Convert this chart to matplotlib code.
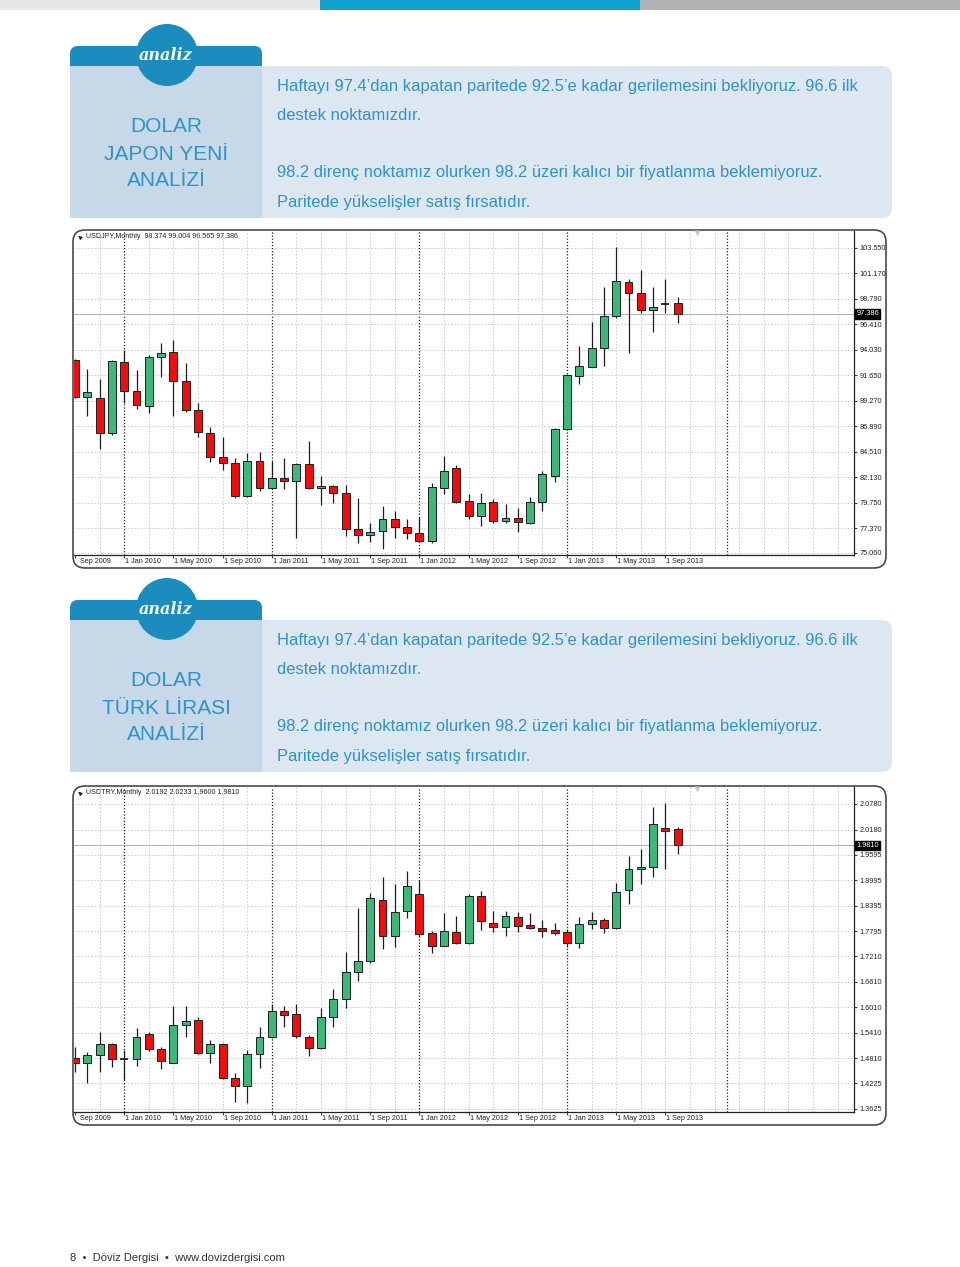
import numpy as np
import matplotlib.pyplot as plt
from matplotlib.patches import Rectangle, FancyBboxPatch, Circle
from matplotlib.transforms import blended_transform_factory, offset_copy

# ---- data ----------------------------------------------------------------
# monthly candles Sep 2009 .. Oct 2013 (50 bars)
jpy_open = [93.09, 89.66, 89.51, 86.24, 92.87, 90.19, 88.80, 93.40, 93.80, 91.13,
            88.42, 86.24, 84.06, 83.50, 80.42, 83.66, 81.17, 82.10, 81.82, 83.35,
            81.13, 81.35, 80.63, 77.30, 76.74, 77.08, 78.24, 77.53, 76.96, 76.21,
            81.17, 82.97, 79.92, 78.52, 79.83, 78.08, 78.30, 77.89, 79.80, 82.28,
            86.62, 91.62, 92.46, 94.18, 97.20, 100.37, 99.38, 97.76, 98.35, 98.374]
jpy_high = [93.20, 92.25, 91.29, 93.10, 94.02, 92.15, 93.56, 94.70, 94.96, 92.84,
            89.10, 86.86, 85.87, 83.91, 84.37, 84.52, 83.66, 83.96, 83.44, 85.55,
            82.25, 81.41, 81.41, 80.17, 77.84, 79.48, 78.99, 78.21, 78.45, 81.64,
            84.12, 83.28, 80.55, 80.64, 80.08, 79.64, 79.23, 80.32, 82.72, 86.70,
            91.75, 94.42, 96.67, 99.88, 103.67, 100.65, 101.50, 99.88, 100.63, 99.004]
jpy_low = [89.55, 87.89, 84.78, 86.10, 89.10, 88.48, 88.10, 91.53, 87.89, 88.26,
           85.93, 83.53, 82.82, 80.17, 80.27, 80.88, 81.01, 81.01, 76.44, 81.01,
           79.55, 79.70, 76.65, 75.97, 76.12, 75.44, 76.49, 76.34, 76.12, 75.97,
           80.55, 79.70, 78.21, 77.58, 77.89, 77.89, 77.05, 77.74, 78.99, 81.66,
           86.55, 90.85, 92.40, 92.53, 96.98, 93.71, 97.51, 95.73, 97.45, 96.565]
jpy_close = [89.66, 90.07, 86.24, 93.02, 90.22, 88.90, 93.40, 93.77, 91.10, 88.42,
             86.40, 84.06, 83.50, 80.42, 83.66, 81.17, 82.04, 81.82, 83.35, 81.17,
             81.35, 80.63, 77.30, 76.74, 77.05, 78.24, 77.53, 76.90, 76.21, 81.26,
             82.75, 79.85, 78.52, 79.76, 78.08, 78.30, 77.93, 79.80, 82.41, 86.62,
             91.69, 92.53, 94.18, 97.23, 100.47, 99.38, 97.76, 98.07, 98.35, 97.386]

try_open = [1.4829, 1.4696, 1.4892, 1.5142, 1.4790, 1.4790, 1.5376, 1.5024, 1.4712, 1.5595,
            1.5713, 1.4930, 1.5142, 1.4344, 1.4164, 1.4907, 1.5305, 1.5924, 1.5846, 1.5321,
            1.5063, 1.5790, 1.6197, 1.6846, 1.7104, 1.8528, 1.7683, 1.8270, 1.8669, 1.7746,
            1.7457, 1.7785, 1.7527, 1.8622, 1.7981, 1.7887, 1.8136, 1.7933, 1.7879, 1.7824,
            1.7785, 1.7512, 1.7958, 1.8059, 1.7879, 1.8762, 1.9247, 1.9294, 2.0217, 2.0192]
try_high = [1.5087, 1.4970, 1.5423, 1.5165, 1.5009, 1.5517, 1.5439, 1.5087, 1.6041, 1.6041,
            1.5775, 1.5243, 1.5165, 1.4462, 1.5009, 1.5556, 1.6088, 1.6041, 1.6088, 1.5360,
            1.5987, 1.6432, 1.7315, 1.8333, 1.8685, 1.9075, 1.8895, 1.9208, 1.8997, 1.7808,
            1.8231, 1.8152, 1.8661, 1.8747, 1.8278, 1.8278, 1.8255, 1.8216, 1.8059, 1.7981,
            1.7840, 1.8136, 1.8255, 1.8114, 1.8919, 1.9560, 1.9716, 2.0702, 2.0811, 2.0233]
try_low = [1.4500, 1.4242, 1.4500, 1.4602, 1.4305, 1.4633, 1.4985, 1.4555, 1.4696, 1.5321,
           1.4915, 1.4712, 1.4328, 1.3781, 1.3758, 1.4579, 1.5282, 1.5556, 1.5282, 1.4876,
           1.5024, 1.5556, 1.6002, 1.6628, 1.7043, 1.7378, 1.7433, 1.8098, 1.7650, 1.7292,
           1.7450, 1.7496, 1.7496, 1.7824, 1.7785, 1.7690, 1.7785, 1.7840, 1.7653, 1.7706,
           1.7433, 1.7395, 1.7840, 1.7746, 1.7848, 1.8434, 1.8903, 1.9075, 1.9255, 1.9600]
try_close = [1.4696, 1.4884, 1.5142, 1.4805, 1.4790, 1.5321, 1.5040, 1.4751, 1.5595, 1.5697,
             1.4930, 1.5142, 1.4360, 1.4164, 1.4907, 1.5321, 1.5924, 1.5830, 1.5337, 1.5063,
             1.5790, 1.6197, 1.6846, 1.7104, 1.8568, 1.7683, 1.8254, 1.8864, 1.7730, 1.7457,
             1.7808, 1.7527, 1.8622, 1.8043, 1.7887, 1.8152, 1.7925, 1.7863, 1.7808, 1.7761,
             1.7512, 1.7958, 1.8059, 1.7879, 1.8708, 1.9247, 1.9310, 2.0311, 2.0154, 1.9810]

jpy_ticks = [103.550, 101.170, 98.790, 96.410, 94.030, 91.650, 89.270,
             86.890, 84.510, 82.130, 79.750, 77.370, 75.060]
try_ticks = [2.0780, 2.0180, 1.9595, 1.8995, 1.8395, 1.7795, 1.7210,
             1.6610, 1.6010, 1.5410, 1.4810, 1.4225, 1.3625]

date_labels = ['Sep 2009', '1 Jan 2010', '1 May 2010', '1 Sep 2010', '1 Jan 2011',
               '1 May 2011', '1 Sep 2011', '1 Jan 2012', '1 May 2012', '1 Sep 2012',
               '1 Jan 2013', '1 May 2013', '1 Sep 2013']
separators = [4, 16, 28, 40, 53]

text_lines = ['Haftayı 97.4’dan kapatan paritede 92.5’e kadar gerilemesini bekliyoruz. 96.6 ilk',
              'destek noktamızdır.',
              '98.2 direnç noktamız olurken 98.2 üzeri kalıcı bir fiyatlanma beklemiyoruz.',
              'Paritede yükselişler satış fırsatıdır.']

# ---- page ----------------------------------------------------------------
W, H = 960, 1267
fig = plt.figure(figsize=(W / 100, H / 100), dpi=100)
bg = fig.add_axes([0, 0, 1, 1])
bg.set_xlim(0, W)
bg.set_ylim(H, 0)
bg.axis('off')

BLUE_TXT = '#2f92c9'
TAB = '#1a8cbe'
GREEN = '#3cb878'
RED = '#f20d0d'
BODY_FONT = ['Liberation Sans', 'DejaVu Sans']

# top stripe
bg.add_patch(Rectangle((0, 0), 320, 10, color='#e6e7e8', lw=0))
bg.add_patch(Rectangle((320, 0), 320, 10, color='#10a3d0', lw=0))
bg.add_patch(Rectangle((640, 0), 320, 10, color='#b1b2b4', lw=0))


def px_axes(x0, y0, x1, y1):
    return fig.add_axes([x0 / W, 1 - y1 / H, (x1 - x0) / W, (y1 - y0) / H])


def analiz_box(top, title):
    # tab + boxes
    bg.add_patch(FancyBboxPatch((70, top), 192, 30, boxstyle='round,pad=0,rounding_size=8',
                                fc=TAB, ec='none'))
    bg.add_patch(FancyBboxPatch((240, top + 20), 652, 152, boxstyle='round,pad=0,rounding_size=10',
                                fc='#dce7f1', ec='none'))
    bg.add_patch(Rectangle((70, top + 20), 192, 152, fc='#c7d9e8', ec='none'))
    bg.add_patch(Circle((167, top + 9), 31, fc=TAB, ec='none'))
    bg.text(166, top + 9, 'analiz', color='white', fontsize=11.5, family='DejaVu Serif',
            style='italic', weight='bold', ha='center', va='center')
    for k, line in enumerate(title):
        bg.text(166, top + 81 + 27 * k, line, color=BLUE_TXT, fontsize=15, family=BODY_FONT,
                ha='center', va='center')
    for dy, line in zip([40, 69, 127, 156], text_lines):
        bg.text(277, top + dy, line, color=BLUE_TXT, fontsize=11.9, family=BODY_FONT,
                ha='left', va='center')


def candle_chart(y0, y1, o, h, l, c, ticks, fmt, symbol):
    # rounded frame
    bg.add_patch(FancyBboxPatch((73, y0 - 1), 813, y1 - y0 + 14,
                                boxstyle='round,pad=0,rounding_size=12',
                                fc='white', ec='#4a4a4a', lw=1.2))
    ax = px_axes(74, y0, 854, y1)
    ax.set_facecolor('none')
    ppm = 12.3  # pixels per month
    ax.set_xlim((74 - 75) / ppm, (854 - 75) / ppm)
    span = (ticks[0] - ticks[-1]) / 305.0
    ax.set_ylim(ticks[-1] - (y1 - (y0 + 17 + 305)) * span, ticks[0] + 17 * span)

    o, h, l, c = map(np.asarray, (o, h, l, c))
    x = np.arange(len(o))

    # grid
    for v in ticks:
        ax.axhline(v, color='#c6c6c6', lw=0.6, ls=(0, (2, 2)), zorder=1)
    for i in range(2, 64, 2):
        if i not in separators:
            ax.axvline(i, color='#c6c6c6', lw=0.6, ls=(0, (2, 2)), zorder=1)
    for i in separators:
        ax.axvline(i, color='#222222', lw=0.9, ls=(0, (1, 1.5)), zorder=1)

    ax.axhline(c[-1], color='#b5b5b5', lw=0.8, zorder=2)

    ax.vlines(x, l, h, color='#1e1e1e', lw=0.9, zorder=3)
    up, dn, eq = c > o, c < o, c == o
    ax.bar(x[up], (c - o)[up], bottom=o[up], width=0.64, color=GREEN,
           edgecolor='#1e1e1e', lw=0.7, zorder=4)
    ax.bar(x[dn], (o - c)[dn], bottom=c[dn], width=0.64, color=RED,
           edgecolor='#1e1e1e', lw=0.7, zorder=4)
    ax.hlines(o[eq], x[eq] - 0.32, x[eq] + 0.32, color='#1e1e1e', lw=1.3, zorder=4)

    # axes
    for s in ('top', 'left'):
        ax.spines[s].set_visible(False)
    for s in ('right', 'bottom'):
        ax.spines[s].set_color('#222222')
        ax.spines[s].set_linewidth(0.9)
    ax.yaxis.tick_right()
    ax.set_yticks(ticks)
    ax.set_yticklabels([fmt.format(v) for v in ticks])
    ax.tick_params(axis='y', labelsize=5.3, length=2.5, pad=1.5, color='#444444',
                   labelcolor='#222222')
    for t in ax.get_yticklabels():
        t.set_family(BODY_FONT)
    ax.set_xticks(list(range(0, 49, 4)))
    ax.set_xticklabels([])
    ax.tick_params(axis='x', length=2, color='#444444')
    tr = blended_transform_factory(ax.transData, ax.transAxes)
    for k, lab in enumerate(date_labels):
        off = 5 if k == 0 else 1
        ax.text(4 * k, 0, lab, transform=offset_copy(tr, fig=fig, x=off, y=-3, units='dots'),
                fontsize=5.2, family=BODY_FONT, color='#222222', ha='left', va='top',
                clip_on=False)

    # current price box
    ty = blended_transform_factory(ax.transAxes, ax.transData)
    ax.text(1.003, c[-1], fmt.format(c[-1]), transform=ty, fontsize=5.3, family=BODY_FONT,
            color='white', ha='left', va='center',
            bbox=dict(boxstyle='square,pad=0.15', fc='black', ec='black'), zorder=6)

    # header + chart shift marker
    bg.text(86, y0 + 6, symbol + ',Monthly  ' + ' '.join(fmt.format(v) for v in (o[-1], h[-1], l[-1], c[-1])),
            fontsize=5.1, family=BODY_FONT, color='#222222', ha='left', va='center')
    bg.annotate('', xy=(76, y0 + 3), xytext=(82, y0 + 8),
                arrowprops=dict(arrowstyle='-|>', color='#222222', lw=0.8, mutation_scale=5))
    bg.plot(697, y0 + 1.5, marker='v', ms=4, color='#c8c8c8', mec='none')
    return ax


analiz_box(46, ['DOLAR', 'JAPON YENİ', 'ANALİZİ'])
candle_chart(231, 555, jpy_open, jpy_high, jpy_low, jpy_close, jpy_ticks, '{:.3f}', 'USDJPY')

analiz_box(600, ['DOLAR', 'TÜRK LİRASI', 'ANALİZİ'])
candle_chart(787, 1112, try_open, try_high, try_low, try_close, try_ticks, '{:.4f}', 'USDTRY')

bg.text(70, 1258, '8  •  Döviz Dergisi  •  www.dovizdergisi.com', fontsize=8,
        family=BODY_FONT, color='#333333', ha='left', va='center')

fig.savefig('out.png', dpi=100)
